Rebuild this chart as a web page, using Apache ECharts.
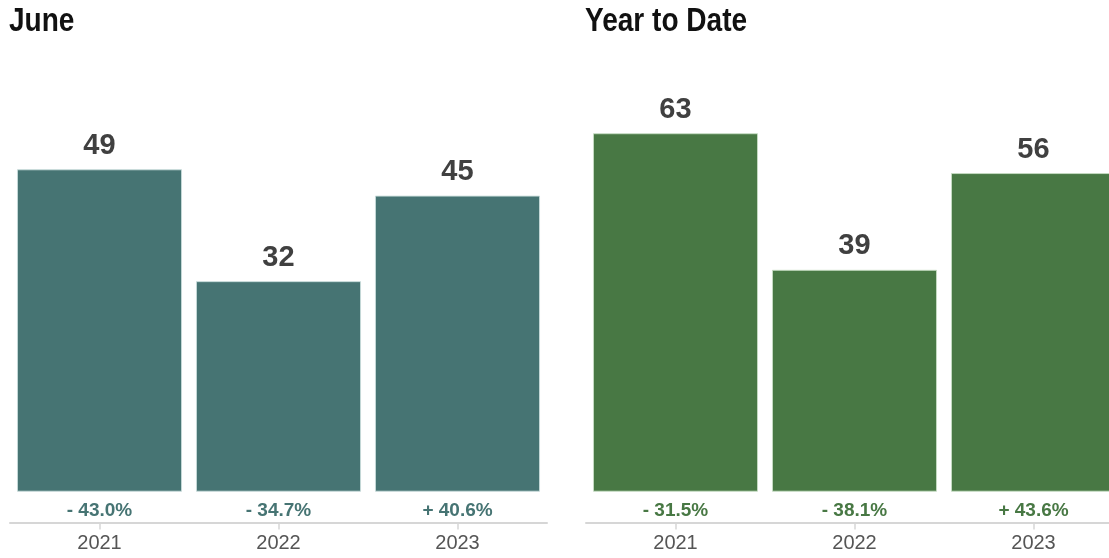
<!DOCTYPE html>
<html>
<head>
<meta charset="utf-8">
<script src="https://cdn.jsdelivr.net/npm/echarts@6/dist/echarts.min.js"></script>
<style>
  html, body { margin: 0; padding: 0; background: #ffffff; overflow: hidden; }
  #chart { width: 1125px; height: 558px; }
</style>
</head>
<body>
<div id="chart"></div>
<script>
// Category labels shared by both panels
const years = ['2021', '2022', '2023'];

// Monthly panel
const juneTitle = 'June';
const juneValues = [49, 32, 45];
const juneChange = ['- 43.0%', '- 34.7%', '+ 40.6%'];

// Year-to-date panel
const ytdTitle = 'Year to Date';
const ytdValues = [63, 39, 56];
const ytdChange = ['- 31.5%', '- 38.1%', '+ 43.6%'];

const FONT = '"Liberation Sans", Arial, Helvetica, sans-serif';

// The right panel runs slightly past the visible page edge, so the
// drawing surface is a little wider than the window and clipped.
const panels = [
  { title: juneTitle, values: juneValues, change: juneChange, color: '#467473',
    border: 'rgba(200,220,218,0.9)', left: 10, min: -4.68, max: 65.61 },
  { title: ytdTitle, values: ytdValues, change: ytdChange, color: '#487844',
    border: 'rgba(200,222,196,0.9)', left: 586, min: -5.41, max: 75.87 }
];

const option = {
  animation: false,
  backgroundColor: '#ffffff',
  // Panel headings: bold sans squeezed horizontally to a condensed look
  graphic: panels.map(p => ({
    type: 'text',
    x: p.left - 1,
    y: 5,
    scaleX: 0.85,
    style: {
      text: p.title,
      font: 'bold 33px ' + FONT,
      fill: '#111111',
      textVerticalAlign: 'top'
    }
  })),
  grid: panels.map(p => ({ left: p.left, width: 537, top: 60, bottom: 35.5 })),
  xAxis: [],
  yAxis: [],
  series: []
};

panels.forEach((p, i) => {
  // Year axis along the baseline
  option.xAxis.push({
    type: 'category',
    gridIndex: i,
    data: years,
    position: 'bottom',
    axisLine: { show: true, onZero: false, lineStyle: { color: '#d6d6d6', width: 2 } },
    axisTick: { show: true, alignWithLabel: true, length: 7, lineStyle: { color: '#d6d6d6', width: 1.5 } },
    axisLabel: { fontFamily: FONT, fontSize: 20, color: '#555555', margin: 11 }
  });
  // Percentage change labels just above the baseline
  option.xAxis.push({
    type: 'category',
    gridIndex: i,
    data: p.change,
    position: 'bottom',
    axisLine: { show: false, onZero: false },
    axisTick: { show: false },
    axisLabel: { inside: true, margin: 2, fontFamily: FONT, fontSize: 19, fontWeight: 'bold', color: p.color }
  });
  option.yAxis.push({
    type: 'value',
    gridIndex: i,
    min: p.min,
    max: p.max,
    show: false,
    splitLine: { show: false }
  });
  option.series.push({
    type: 'bar',
    xAxisIndex: i * 2,
    yAxisIndex: i,
    data: p.values,
    barCategoryGap: '7.8%',
    itemStyle: { color: p.color, borderColor: p.border, borderWidth: 1 },
    label: {
      show: true,
      position: 'top',
      distance: 9,
      fontFamily: FONT,
      fontSize: 29,
      fontWeight: 'bold',
      color: '#404040'
    }
  });
});

const chart = echarts.init(document.getElementById('chart'), null, { renderer: 'canvas' });
chart.setOption(option);
</script>
</body>
</html>
